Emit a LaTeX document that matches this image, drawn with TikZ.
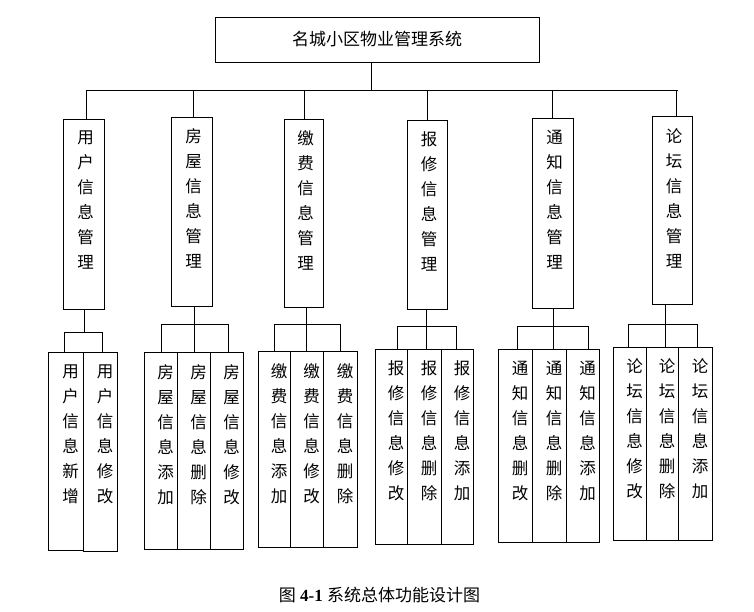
\documentclass[tikz,border=0pt]{standalone}
\usepackage{fontspec}
\setmainfont{Liberation Serif}
\newfontfamily\cjk{Noto Sans CJK SC}
\newcommand\vstk[3]{\hspace*{#1}\parbox[c][#2][t]{18pt}{\centering #3}}
\tikzset{
  box/.style={draw, line width=0.9pt, inner sep=0pt, outer sep=0pt, anchor=north west,
              font=\cjk\fontsize{16.5}{25}\selectfont},
  ln/.style={line width=0.9pt}
}
\begin{document}
\begin{tikzpicture}[x=1pt,y=-1pt]
\useasboundingbox (0,0) rectangle (754,611);
% top
\node[box, minimum width=324pt, minimum height=45pt, font=\cjk\fontsize{17}{20}\selectfont] (top) at (215,17) {名城小区物业管理系统};
% modules
\node[box, minimum width=41pt, minimum height=190pt] (m1) at (63,119) {\vstk{4pt}{167pt}{用\\户\\信\\息\\管\\理}};
\node[box, minimum width=41pt, minimum height=189pt] (m2) at (171,117) {\vstk{4pt}{165pt}{房\\屋\\信\\息\\管\\理}};
\node[box, minimum width=39pt, minimum height=188pt] (m3) at (284,119) {\vstk{4pt}{165pt}{缴\\费\\信\\息\\管\\理}};
\node[box, minimum width=40pt, minimum height=189pt] (m4) at (407,120) {\vstk{4pt}{166pt}{报\\修\\信\\息\\管\\理}};
\node[box, minimum width=41pt, minimum height=190pt] (m5) at (532,118) {\vstk{4pt}{166pt}{通\\知\\信\\息\\管\\理}};
\node[box, minimum width=40pt, minimum height=188pt] (m6) at (652,116) {\vstk{4pt}{163pt}{论\\坛\\信\\息\\管\\理}};
% children M1
\node[box, minimum width=35pt, minimum height=198pt] (c11) at (48,352) {\vstk{10pt}{173pt}{用\\户\\信\\息\\新\\增}};
\node[box, minimum width=34pt, minimum height=199pt] (c12) at (83,352) {\vstk{10pt}{174pt}{用\\户\\信\\息\\修\\改}};
% M2
\node[box, minimum width=33pt, minimum height=197pt] (c21) at (144,352) {\vstk{10pt}{172pt}{房\\屋\\信\\息\\添\\加}};
\node[box, minimum width=33pt, minimum height=197pt] (c22) at (177,352) {\vstk{10pt}{172pt}{房\\屋\\信\\息\\删\\除}};
\node[box, minimum width=33pt, minimum height=197pt] (c23) at (210,352) {\vstk{10pt}{172pt}{房\\屋\\信\\息\\修\\改}};
% M3
\node[box, minimum width=32pt, minimum height=196pt] (c31) at (258,351) {\vstk{10pt}{171pt}{缴\\费\\信\\息\\添\\加}};
\node[box, minimum width=33pt, minimum height=196pt] (c32) at (290,351) {\vstk{10pt}{171pt}{缴\\费\\信\\息\\修\\改}};
\node[box, minimum width=34pt, minimum height=196pt] (c33) at (323,351) {\vstk{10pt}{171pt}{缴\\费\\信\\息\\删\\除}};
% M4
\node[box, minimum width=32pt, minimum height=195pt] (c41) at (375,349) {\vstk{10pt}{172pt}{报\\修\\信\\息\\修\\改}};
\node[box, minimum width=34pt, minimum height=195pt] (c42) at (407,349) {\vstk{10pt}{172pt}{报\\修\\信\\息\\删\\除}};
\node[box, minimum width=32pt, minimum height=195pt] (c43) at (441,349) {\vstk{10pt}{172pt}{报\\修\\信\\息\\添\\加}};
% M5
\node[box, minimum width=34pt, minimum height=193pt] (c51) at (498,349) {\vstk{10pt}{168pt}{通\\知\\信\\息\\删\\改}};
\node[box, minimum width=34pt, minimum height=193pt] (c52) at (532,349) {\vstk{10pt}{168pt}{通\\知\\信\\息\\删\\除}};
\node[box, minimum width=33pt, minimum height=193pt] (c53) at (566,349) {\vstk{10pt}{168pt}{通\\知\\信\\息\\添\\加}};
% M6
\node[box, minimum width=33pt, minimum height=193pt] (c61) at (613,347) {\vstk{10pt}{170pt}{论\\坛\\信\\息\\修\\改}};
\node[box, minimum width=32pt, minimum height=193pt] (c62) at (646,347) {\vstk{10pt}{170pt}{论\\坛\\信\\息\\删\\除}};
\node[box, minimum width=34pt, minimum height=193pt] (c63) at (678,347) {\vstk{10pt}{170pt}{论\\坛\\信\\息\\添\\加}};
% caption
\node[font=\fontsize{17}{20}\selectfont] (cap) at (379.5,595) {{\cjk 图} \textbf{4-1} {\cjk 系统总体功能设计图}};
% top connectors
\coordinate (ts) at (371,91);
\coordinate (bl) at (86,90);
\coordinate (br) at (678,90);
\draw[ln] (ts |- top.south) -- (ts);
\draw[ln] (bl) -- (br);
\coordinate (s1) at (86,90);
\coordinate (s2) at (193,90);
\coordinate (s3) at (304,90);
\coordinate (s4) at (427,90);
\coordinate (s5) at (552,90);
\coordinate (s6) at (676,90);
\draw[ln] (s1) -- (s1 |- m1.north);
\draw[ln] (s2) -- (s2 |- m2.north);
\draw[ln] (s3) -- (s3 |- m3.north);
\draw[ln] (s4) -- (s4 |- m4.north);
\draw[ln] (s5) -- (s5 |- m5.north);
\draw[ln] (s6) -- (s6 |- m6.north);
% M1 children connectors
\coordinate (j1) at (84,332);
\coordinate (d11) at (64,332);
\coordinate (d12) at (102,332);
\draw[ln] (j1 |- m1.south) -- (j1);
\draw[ln] (d11) -- (d12);
\draw[ln] (d11) -- (d11 |- c11.north);
\draw[ln] (d12) -- (d12 |- c12.north);
% M2
\coordinate (j2) at (194,324);
\coordinate (d21) at (161,324);
\coordinate (d23) at (228,324);
\draw[ln] (j2 |- m2.south) -- (j2);
\draw[ln] (d21) -- (d23);
\draw[ln] (d21) -- (d21 |- c21.north);
\draw[ln] (j2) -- (j2 |- c22.north);
\draw[ln] (d23) -- (d23 |- c23.north);
% M3
\coordinate (j3) at (306,324);
\coordinate (d31) at (274,324);
\coordinate (d33) at (340,324);
\draw[ln] (j3 |- m3.south) -- (j3);
\draw[ln] (d31) -- (d33);
\draw[ln] (d31) -- (d31 |- c31.north);
\draw[ln] (j3) -- (j3 |- c32.north);
\draw[ln] (d33) -- (d33 |- c33.north);
% M4
\coordinate (j4) at (426,326);
\coordinate (d41) at (397,326);
\coordinate (d43) at (456,326);
\draw[ln] (j4 |- m4.south) -- (j4);
\draw[ln] (d41) -- (d43);
\draw[ln] (d41) -- (d41 |- c41.north);
\draw[ln] (j4) -- (j4 |- c42.north);
\draw[ln] (d43) -- (d43 |- c43.north);
% M5
\coordinate (j5) at (553,326);
\coordinate (d51) at (517,326);
\coordinate (d53) at (588,326);
\draw[ln] (j5 |- m5.south) -- (j5);
\draw[ln] (d51) -- (d53);
\draw[ln] (d51) -- (d51 |- c51.north);
\draw[ln] (j5) -- (j5 |- c52.north);
\draw[ln] (d53) -- (d53 |- c53.north);
% M6
\coordinate (j6) at (665,324);
\coordinate (d61) at (628,324);
\coordinate (d63) at (697,324);
\draw[ln] (j6 |- m6.south) -- (j6);
\draw[ln] (d61) -- (d63);
\draw[ln] (d61) -- (d61 |- c61.north);
\draw[ln] (j6) -- (j6 |- c62.north);
\draw[ln] (d63) -- (d63 |- c63.north);
\end{tikzpicture}
\end{document}
